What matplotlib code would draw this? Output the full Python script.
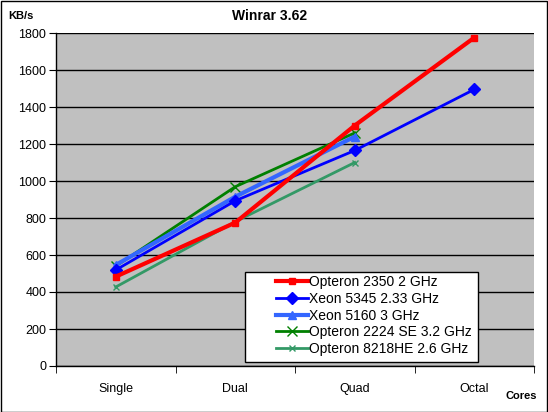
import matplotlib
matplotlib.use("Agg")
import matplotlib.pyplot as plt
from matplotlib.patches import Rectangle

plt.rcParams['font.family'] = ['Liberation Sans', 'DejaVu Sans']

categories = ["Single", "Dual", "Quad", "Octal"]
opteron2350 = [483, 775, 1300, 1775]
xeon5345 = [519, 893, 1165, 1495]
xeon5160 = [546, 915, 1240]
opteron2224 = [540, 969, 1260]
opteron8218 = [427, 780, 1100]
yticks = [0, 200, 400, 600, 800, 1000, 1200, 1400, 1600, 1800]

W, H = 548, 412
fig = plt.figure(figsize=(W / 100, H / 100), dpi=100)
fig.patch.set_facecolor("white")
fig.add_artist(Rectangle((0.5 / W, 0.5 / H), 1 - 1.5 / W, 1 - 1.5 / H, transform=fig.transFigure,
                         fill=False, edgecolor="black", linewidth=1))

left, right, top, bottom = 56, 534, 33, 366
ax = fig.add_axes([left / W, 1 - bottom / H, (right - left) / W, (bottom - top) / H])
ax.set_facecolor("#C0C0C0")
ax.set_xlim(-0.5, 3.5)
ax.set_ylim(0, 1800)
ax.set_yticks(yticks)
ax.set_yticklabels([str(v) for v in yticks], fontsize=9)
ax.set_xticks(range(len(categories)))
ax.set_xticklabels(categories, fontsize=9)
ax.set_xticks([-0.5, 0.5, 1.5, 2.5, 3.5], minor=True)
ax.tick_params(axis='x', which='major', length=0, pad=12)
ax.tick_params(axis='x', which='minor', length=5, direction='out')
ax.tick_params(axis='y', length=5, direction='out', pad=2)
ax.yaxis.grid(True, color="black", linewidth=1)
ax.set_axisbelow(True)
for s in ["top", "right"]:
    ax.spines[s].set_visible(False)
for s in ["left", "bottom"]:
    ax.spines[s].set_color("black")
    ax.spines[s].set_linewidth(1)

x4 = list(range(4))
x3 = list(range(3))
ax.plot(x4, opteron2350, color="#FF0000", lw=3, marker="s", ms=5, label="Opteron 2350 2 GHz", zorder=5)
ax.plot(x4, xeon5345, color="#0000FF", lw=2, marker="D", ms=6, label="Xeon 5345 2.33 GHz", zorder=4)
ax.plot(x3, xeon5160, color="#3366FF", lw=3, marker="^", ms=6, label="Xeon 5160 3 GHz", zorder=3)
ax.plot(x3, opteron2224, color="#008000", lw=2, marker="x", ms=7, mew=1, label="Opteron 2224 SE 3.2 GHz", zorder=2)
ax.plot(x3, opteron8218, color="#339966", lw=2, marker="x", ms=4, mew=1, label="Opteron 8218HE 2.6 GHz", zorder=2)

# legend box
fig.add_artist(Rectangle((245 / W, 1 - 362 / H), (478 - 245) / W, (362 - 272) / H, transform=fig.transFigure,
                         facecolor="white", edgecolor="black", linewidth=1, zorder=10))
leg = fig.legend(*ax.get_legend_handles_labels(), loc="upper left", bbox_to_anchor=(276 / W, 1 - 275 / H),
                 frameon=False, fontsize=10, handlelength=2.3, handletextpad=0.1, borderpad=0,
                 labelspacing=0.2, borderaxespad=0)
leg.set_zorder(11)

fig.text(270 / W, 1 - 16 / H, "Winrar 3.62", ha="center", va="center", fontsize=10, fontweight="bold")
fig.text(8 / W, 1 - 16 / H, "KB/s", ha="left", va="center", fontsize=8, fontweight="bold")
fig.text(537 / W, 1 - 396 / H, "Cores", ha="right", va="center", fontsize=8, fontweight="bold")

fig.savefig("out.png", dpi=100, facecolor="white")
